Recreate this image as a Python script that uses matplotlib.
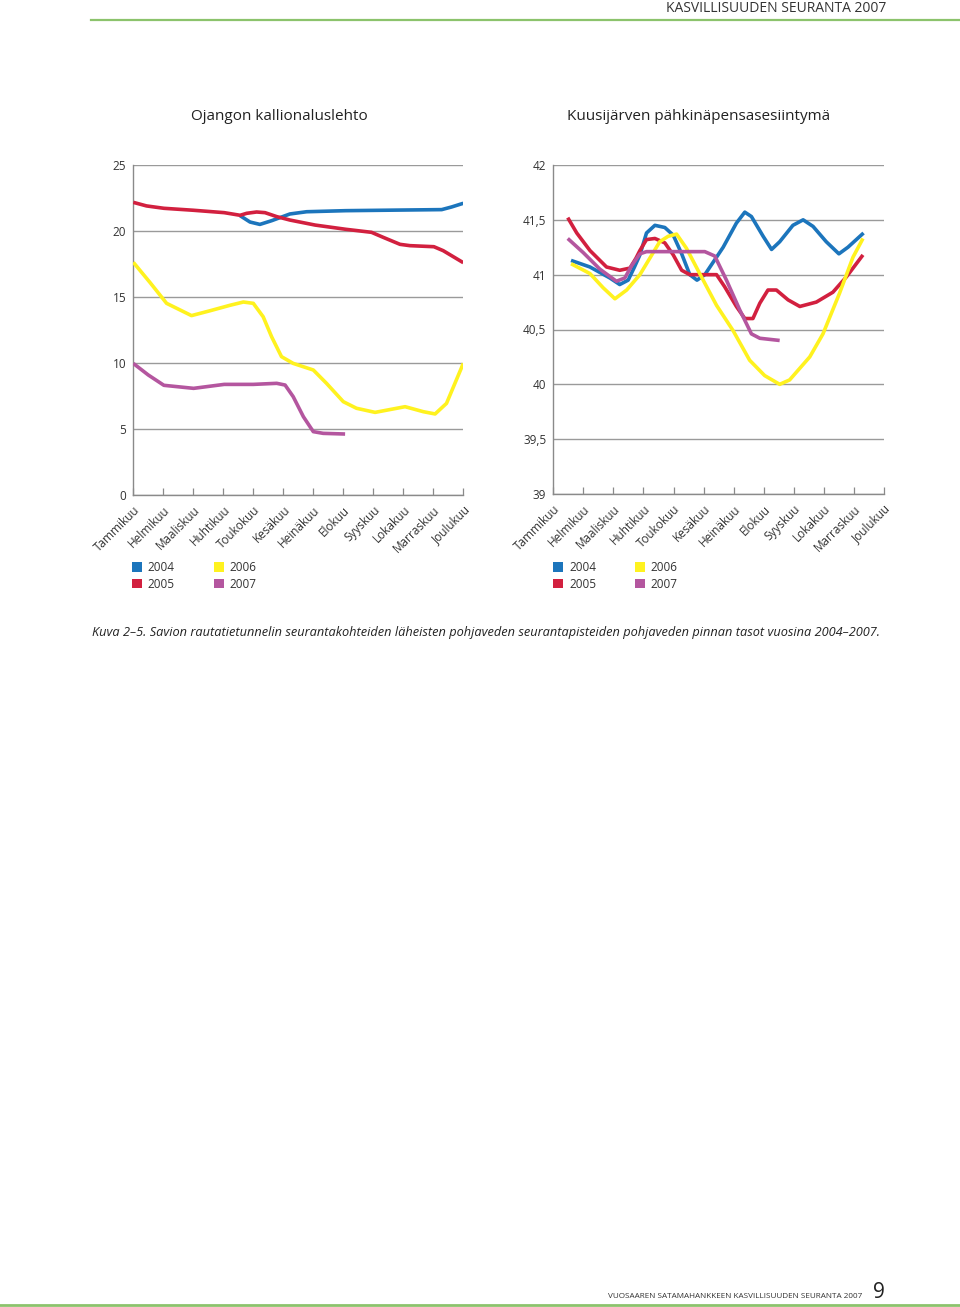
# Pohjaveden pinnan tasot 2004-2007, kaksi kuvaajaa rinnakkain
import matplotlib
matplotlib.use('Agg')
from matplotlib import pyplot as plt
from matplotlib.patches import Patch
from matplotlib.lines import Line2D

plt.rcParams['font.family'] = ['Open Sans', 'DejaVu Sans']

# kuukaudet x-akselille
months = ['Tammikuu', 'Helmikuu', 'Maaliskuu', 'Huhtikuu', 'Toukokuu', 'Kesäkuu',
          'Heinäkuu', 'Elokuu', 'Syyskuu', 'Lokakuu', 'Marraskuu', 'Joulukuu']
years = ['2004', '2005', '2006', '2007']
colors = ['#1c75bc', '#d2203f', '#fff21f', '#b4569f']

# Ojangon kallionaluslehto (x = kuukausi, 0 = tammikuu)
left_2004_x = [3.56, 3.89, 4.22, 4.61, 5.22, 5.78, 7.08, 9.06, 10.28, 10.61, 11.0]
left_2004_y = [21.16, 20.68, 20.5, 20.78, 21.29, 21.46, 21.54, 21.59, 21.62, 21.82, 22.1]
left_2005_x = [0, 0.44, 1.02, 2.01, 3.03, 3.56, 3.78, 4.11, 4.39, 4.78, 5.22, 6.06,
               7.08, 7.94, 8.33, 8.89, 9.22, 10.02, 10.33, 11.0]
left_2005_y = [22.17, 21.9, 21.72, 21.57, 21.39, 21.19, 21.34, 21.44, 21.39, 21.09, 20.83, 20.45,
               20.13, 19.9, 19.52, 18.99, 18.89, 18.81, 18.51, 17.6]
left_2006_x = [0, 0.56, 1.11, 1.94, 2.56, 3.22, 3.67, 4.0, 4.33, 4.61, 4.94, 5.33, 6.0,
               6.44, 7.0, 7.44, 8.06, 9.06, 9.67, 10.06, 10.44, 11.0]
left_2006_y = [17.63, 16.09, 14.52, 13.59, 13.96, 14.37, 14.62, 14.52, 13.5, 11.99, 10.48, 9.97, 9.47,
               8.46, 7.07, 6.57, 6.26, 6.69, 6.31, 6.14, 6.94, 9.97]
left_2007_x = [0, 0.5, 1.02, 2.01, 3.03, 4.0, 4.78, 5.06, 5.33, 5.67, 6.0, 6.33, 7.06]
left_2007_y = [9.97, 9.09, 8.31, 8.08, 8.38, 8.38, 8.46, 8.33, 7.45, 5.93, 4.8, 4.67, 4.62]

# Kuusijärven pähkinäpensasesiintymä
right_2004_x = [0.59, 1.22, 1.88, 2.21, 2.49, 2.7, 2.88, 3.1, 3.38, 3.71, 3.99, 4.27, 4.54,
                4.78, 5.04, 5.65, 6.09, 6.37, 6.59, 6.98, 7.26, 7.53, 7.97, 8.31, 8.64,
                9.08, 9.5, 9.8, 10.32]
right_2004_y = [41.13, 41.07, 40.97, 40.91, 40.95, 41.07, 41.18, 41.38, 41.45, 41.43, 41.36, 41.19, 41.0,
                40.95, 41.0, 41.25, 41.47, 41.57, 41.53, 41.35, 41.23, 41.3, 41.45, 41.5, 41.44,
                41.3, 41.19, 41.25, 41.38]
right_2005_x = [0.48, 0.78, 1.22, 1.77, 2.21, 2.55, 2.75, 2.88, 3.1, 3.38, 3.71, 3.99, 4.27,
                4.54, 5.43, 5.7, 6.09, 6.37, 6.64, 6.87, 7.14, 7.42, 7.81, 8.2, 8.75,
                9.3, 9.75, 10.3]
right_2005_y = [41.52, 41.38, 41.22, 41.07, 41.04, 41.06, 41.15, 41.22, 41.32, 41.33, 41.29, 41.18, 41.04,
                41.0, 41.0, 40.89, 40.71, 40.6, 40.6, 40.74, 40.86, 40.86, 40.77, 40.71, 40.75,
                40.84, 40.98, 41.18]
right_2006_x = [0.59, 1.22, 1.66, 2.05, 2.44, 2.88, 3.21, 3.54, 3.82, 4.1, 4.43, 4.87, 5.43,
                5.98, 6.53, 7.03, 7.53, 7.86, 8.53, 8.97, 9.52, 9.97, 10.3]
right_2006_y = [41.1, 41.01, 40.88, 40.78, 40.86, 41.0, 41.15, 41.3, 41.35, 41.37, 41.24, 41.01, 40.72,
                40.49, 40.22, 40.08, 40.0, 40.04, 40.25, 40.46, 40.83, 41.16, 41.33]
right_2007_x = [0.48, 1.0, 1.55, 2.1, 2.38, 2.6, 2.88, 3.1, 5.04, 5.37, 5.76, 6.2, 6.59, 6.87, 7.53]
right_2007_y = [41.33, 41.2, 41.05, 40.94, 40.97, 41.08, 41.19, 41.21, 41.21, 41.17, 40.95, 40.68, 40.46,
                40.42, 40.4]

left_ticks = [0, 5, 10, 15, 20, 25]
left_ticklabels = ['0', '5', '10', '15', '20', '25']
right_ticks = [39, 39.5, 40, 40.5, 41, 41.5, 42]
right_ticklabels = ['39', '39,5', '40', '40,5', '41', '41,5', '42']

W, H = 960, 1307
fig = plt.figure(figsize=(W / 100, H / 100), dpi=100)


def px(x0, y0, x1, y1):
    # pikselilaatikko -> kuvan koordinaatit
    return [x0 / W, 1 - y1 / H, (x1 - x0) / W, (y1 - y0) / H]


def draw_chart(ax, series, ticks, ticklabels, title, title_x):
    # piirtojärjestys: 2006, 2007, 2005, 2004 (sininen päällimmäisenä)
    for i in [2, 3, 1, 0]:
        xs, ys = series[i]
        ax.plot(xs, ys, color=colors[i], lw=2.6, solid_joinstyle='round',
                solid_capstyle='butt', zorder=3 + i)
    ax.set_xlim(0, 11)
    ax.set_ylim(ticks[0], ticks[-1])
    ax.set_yticks(ticks)
    ax.set_yticklabels(ticklabels)
    ax.set_xticks(range(12))
    ax.set_xticklabels(months, rotation=45, ha='right', va='top', rotation_mode='anchor')
    ax.grid(axis='y', color='#9a9a9a', lw=1.0)
    ax.set_axisbelow(True)
    for s in ['top', 'right']:
        ax.spines[s].set_visible(False)
    for s in ['left', 'bottom']:
        ax.spines[s].set_color('#8a8a8a')
        ax.spines[s].set_linewidth(1.0)
    ax.tick_params(axis='y', length=0, pad=5, labelsize=8.5, labelcolor='#333333')
    ax.tick_params(axis='x', direction='in', length=5, color='#8a8a8a', width=0.9,
                   pad=6, labelsize=8.5, labelcolor='#333333')
    fig.text(title_x / W, 1 - 117 / H, title, ha='center', va='center',
             fontsize=11, color='#222222')


ax1 = fig.add_axes(px(133.3, 165, 463.3, 495))
draw_chart(ax1, [(left_2004_x, left_2004_y), (left_2005_x, left_2005_y),
                 (left_2006_x, left_2006_y), (left_2007_x, left_2007_y)],
           left_ticks, left_ticklabels, 'Ojangon kallionaluslehto', 279)

ax2 = fig.add_axes(px(553.3, 165, 884, 494))
draw_chart(ax2, [(right_2004_x, right_2004_y), (right_2005_x, right_2005_y),
                 (right_2006_x, right_2006_y), (right_2007_x, right_2007_y)],
           right_ticks, right_ticklabels, 'Kuusijärven pähkinäpensasesiintymä', 699)

# selitteet
handles = [Patch(facecolor=c, edgecolor='none') for c in colors]
for lx in [132, 553]:
    fig.legend(handles, years, loc='upper left', bbox_to_anchor=(lx / W, 1 - 561 / H),
               ncol=2, frameon=False, fontsize=8.5, handlelength=0.85, handleheight=0.85,
               handletextpad=0.5, columnspacing=3.3, labelspacing=0.3, borderpad=0,
               borderaxespad=0, labelcolor='#333333')

# kuvateksti
fig.text(92 / W, 1 - 632 / H,
         'Kuva 2–5. Savion rautatietunnelin seurantakohteiden läheisten pohjaveden '
         'seurantapisteiden pohjaveden pinnan tasot vuosina 2004–2007.',
         ha='left', va='center', fontsize=9.2, style='italic', color='#222222')

# ylä- ja alatunniste
fig.text(886 / W, 1 - 8 / H, 'KASVILLISUUDEN SEURANTA 2007', ha='right', va='center',
         fontsize=10, color='#333333')
fig.add_artist(Line2D([91 / W, 1], [1 - 20 / H, 1 - 20 / H], color='#8cc36c', lw=1.6))
fig.text(862 / W, 1 - 1296 / H, 'VUOSAAREN SATAMAHANKKEEN KASVILLISUUDEN SEURANTA 2007',
         ha='right', va='center', fontsize=5.9, color='#333333')
fig.text(873 / W, 1 - 1292 / H, '9', ha='left', va='center', fontsize=15, color='#222222')
fig.add_artist(Line2D([0, 1], [1 - 1305 / H, 1 - 1305 / H], color='#8cc36c', lw=2))

fig.savefig('out.png', dpi=100)
